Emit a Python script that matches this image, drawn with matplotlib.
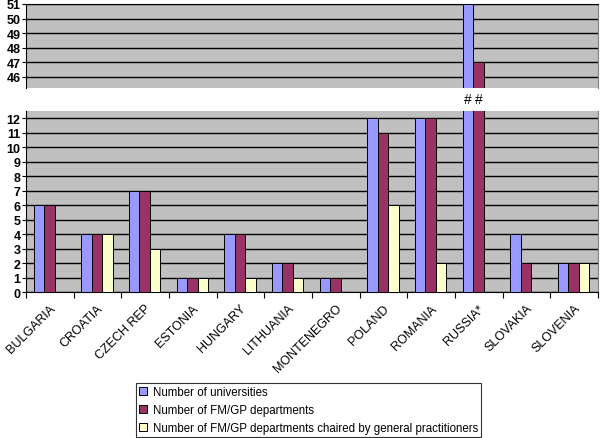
"""Broken-axis grouped bar chart: universities and FM/GP departments by country."""
import matplotlib
matplotlib.use("Agg")
import matplotlib.pyplot as plt
import numpy as np
from matplotlib.transforms import blended_transform_factory

plt.rcParams["font.family"] = ["Liberation Sans", "DejaVu Sans"]

countries = ["BULGARIA", "CROATIA", "CZECH REP", "ESTONIA", "HUNGARY", "LITHUANIA",
             "MONTENEGRO", "POLAND", "ROMANIA", "RUSSIA*", "SLOVAKIA", "SLOVENIA"]
universities = [6, 4, 7, 1, 4, 2, 1, 12, 12, 51, 4, 2]
departments = [6, 4, 7, 1, 4, 2, 1, 11, 12, 47, 2, 2]
chaired_by_gp = [0, 4, 3, 1, 1, 1, 0, 6, 2, 0, 0, 2]
series_names = ["Number of universities",
                "Number of FM/GP departments",
                "Number of FM/GP departments chaired by general practitioners"]
colors = ["#9999FF", "#993366", "#FFFFCC"]

fig = plt.figure(figsize=(6.0, 4.39), dpi=100)
ax_top = fig.add_axes([26 / 600, 1 - 88.7 / 439, 572 / 600, 83.7 / 439])
ax_bot = fig.add_axes([26 / 600, 1 - 293.3 / 439, 572 / 600, 181.3 / 439])

x = np.arange(len(countries)) + 0.49
width = 0.22
series = [universities, departments, chaired_by_gp]

for ax in (ax_top, ax_bot):
    ax.set_facecolor("#C0C0C0")
    for i, vals in enumerate(series):
        ax.bar(x + (i - 1) * width, vals, width, color=colors[i],
               edgecolor="black", linewidth=0.7, label=series_names[i], zorder=3)
    ax.set_xlim(0, len(countries))
    ax.yaxis.grid(True, color="black", linewidth=1.0, zorder=1)
    ax.set_axisbelow(True)
    for s in ("top", "right", "bottom"):
        ax.spines[s].set_color("#808080")
    ax.spines["left"].set_color("black")
    ax.tick_params(axis="y", length=3, width=0.8, pad=1, labelsize=9)

ax_top.set_ylim(45.25, 51)
ax_top.set_yticks(range(46, 52))
ax_top.set_xticks([])
ax_top.spines["bottom"].set_visible(False)
ax_top.spines["top"].set_color("black")
for lbl in ax_top.get_yticklabels():
    lbl.set_fontweight("bold")

ax_bot.set_ylim(0, 12.5)
ax_bot.set_yticks(range(0, 13))
for lbl in ax_bot.get_yticklabels():
    lbl.set_fontweight("bold")
ax_bot.spines["top"].set_visible(False)
ax_bot.spines["bottom"].set_color("black")
ax_bot.set_xticks(x)
ax_bot.set_xticklabels(countries, rotation=45, ha="right", rotation_mode="anchor",
                       fontsize=9)
ax_bot.tick_params(axis="x", length=0, pad=7)
ax_bot.set_xticks(np.arange(len(countries) + 1), minor=True)
ax_bot.tick_params(axis="x", which="minor", length=4, width=0.8, direction="out")

# break markers above the Russia bars
trans = blended_transform_factory(ax_bot.transData, ax_bot.transAxes)
russia = countries.index("RUSSIA*")
for i in range(2):
    ax_bot.text(x[russia] + (i - 1) * width, 1.066, "#", transform=trans,
                ha="center", va="center", fontsize=10)

handles, labels = ax_bot.get_legend_handles_labels()
leg = fig.legend(handles, labels, loc="center", bbox_to_anchor=(0.514, 0.064),
                 fontsize=8.3, frameon=True, fancybox=False, edgecolor="black",
                 handlelength=0.7, handleheight=0.7, handletextpad=0.5,
                 labelspacing=0.5, borderpad=0.25)
leg.get_frame().set_linewidth(0.8)

fig.savefig("out.png", dpi=100)
